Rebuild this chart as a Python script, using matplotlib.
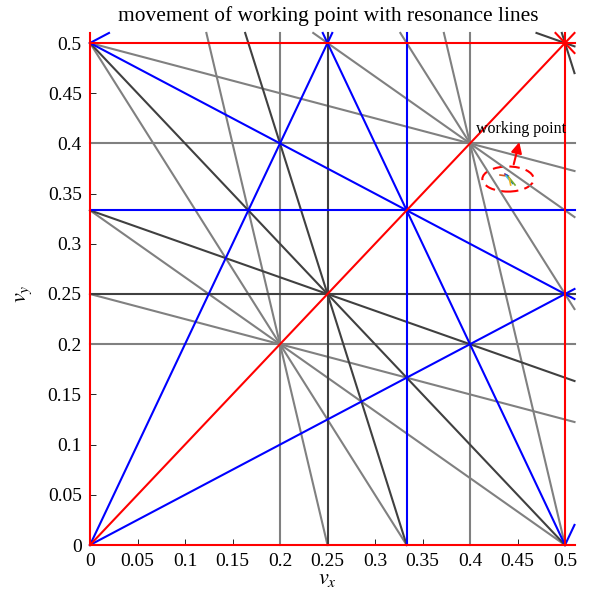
import matplotlib
matplotlib.use('Agg')
import matplotlib.pyplot as plt
from matplotlib.patches import Ellipse

plt.rcParams['font.family'] = ['Liberation Serif', 'DejaVu Serif']
plt.rcParams['mathtext.fontset'] = 'stix'

# resonance lines m*vx + n*vy = p, grouped by order
order12 = [(1, 0, 0), (0, 1, 0), (2, 0, 1), (0, 2, 1), (1, 1, 1), (1, -1, 0)]
order3 = [(3, 0, 1), (0, 3, 1), (2, 1, 1), (1, 2, 1),
          (2, -1, 0), (2, -1, 1), (1, -2, 0), (1, -2, -1)]
order4 = [(4, 0, 1), (0, 4, 1), (3, 1, 1), (3, 1, 2),
          (1, 3, 1), (1, 3, 2), (2, 2, 1)]
order5 = [(5, 0, 1), (5, 0, 2), (0, 5, 1), (0, 5, 2),
          (4, 1, 1), (4, 1, 2), (1, 4, 1), (1, 4, 2),
          (3, 2, 1), (3, 2, 2), (2, 3, 1), (2, 3, 2)]

# working point tracks (vx, vy)
wp_tracks = [
    ([0.4316, 0.4368], [0.3685, 0.3678]),
    ([0.4368, 0.4403], [0.3695, 0.3675]),
    ([0.4386, 0.4449], [0.3685, 0.3602]),
    ([0.4379, 0.4421], [0.3675, 0.3628]),
    ([0.4403, 0.4474], [0.3668, 0.3586]),
    ([0.4414, 0.4428], [0.3652, 0.3586]),
]
wp_colors = ['#D95319', '#7E2F8E', '#0072BD', '#4DBEEE', '#77AC30', '#EDB120']

ticks = [0, 0.05, 0.1, 0.15, 0.2, 0.25, 0.3, 0.35, 0.4, 0.45, 0.5]
tick_labels = ['0', '0.05', '0.1', '0.15', '0.2', '0.25', '0.3', '0.35', '0.4', '0.45', '0.5']


def segment(m, n, p, lo=0.0, hi=0.51):
    # clip the resonance line to the drawing box
    pts = []
    if n != 0:
        for x in (lo, hi):
            y = (p - m * x) / n
            if lo - 1e-9 <= y <= hi + 1e-9:
                pts.append((x, y))
    if m != 0:
        for y in (lo, hi):
            x = (p - n * y) / m
            if lo - 1e-9 <= x <= hi + 1e-9:
                pts.append((x, y))
    if len(pts) < 2:
        return None
    pts.sort()
    return pts[0], pts[-1]


fig = plt.figure(figsize=(5.92, 5.93), dpi=100)
ax = fig.add_axes([90 / 592, 48 / 593, 475 / 592, 502 / 593])

groups = [(order5, '#808080'), (order4, '#404040'), (order3, '#0000FF'), (order12, '#FF0000')]
for lines, col in groups:
    for m, n, p in lines:
        seg = segment(m, n, p)
        if seg is None:
            continue
        (x0, y0), (x1, y1) = seg
        ax.plot([x0, x1], [y0, y1], color=col, lw=1.5, clip_on=False)

for (xs, ys), c in zip(wp_tracks, wp_colors):
    ax.plot(xs, ys, color=c, lw=1.2)

ax.add_patch(Ellipse((0.44, 0.3645), 0.054, 0.025, fill=False, ec='red',
                     ls=(0, (5, 3)), lw=1.5))
ax.annotate('', xy=(0.4526, 0.404), xytext=(0.4453, 0.3765),
            arrowprops=dict(arrowstyle='-|>', color='red', lw=1.5, mutation_scale=16))
ax.text(0.4063, 0.4143, 'working point', fontsize=11.5, va='center', ha='left')

ax.set_xlim(0, 0.5)
ax.set_ylim(0, 0.5)
ax.set_xticks(ticks)
ax.set_xticklabels(tick_labels)
ax.set_yticks(ticks)
ax.set_yticklabels(tick_labels)
ax.tick_params(direction='in', length=4, width=0.6, labelsize=14, pad=6)
for s in ax.spines.values():
    s.set_visible(False)

ax.set_xlabel('$v_x$', fontsize=16, labelpad=0)
ax.set_ylabel('$v_y$', fontsize=16, labelpad=10)
fig.text(328 / 592, 1 - 16 / 593, 'movement of working point with resonance lines',
         fontsize=15.4, ha='center', va='center')

fig.savefig('out.png', dpi=100)
